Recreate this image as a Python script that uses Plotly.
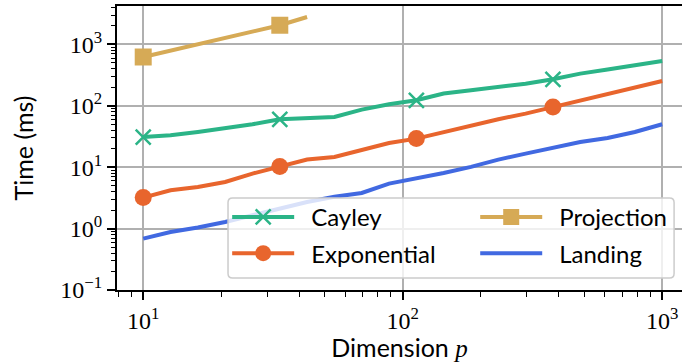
import plotly.graph_objects as go

# Problem sizes p (20 log-spaced dimensions from 10 to 1000)
dims = [10.0, 12.74, 16.24, 20.69, 26.37, 33.60, 42.81, 54.56, 69.52, 88.59,
        112.9, 143.8, 183.3, 233.6, 297.6, 379.3, 483.3, 615.8, 784.8, 1000.0]

# Timings in milliseconds
cayley = [31, 33, 37.4, 42.5, 50, 60.3, 64, 65.7, 86.7, 106,
          123, 158, 179, 200, 229, 270, 334, 389, 451, 537]
exponential = [3.2, 4.2, 4.76, 5.74, 7.87, 10.3, 13.3, 14.7, 18.8, 24.8,
               29.2, 37.4, 48, 60.5, 74.6, 95.5, 123, 158, 198, 253]
landing = [0.687, 0.88, 1.04, 1.28, 1.65, 2.12, 2.71, 3.3, 3.8, 5.4,
           6.5, 8.05, 10.1, 13.3, 16.6, 20.5, 25.7, 29.9, 37.4, 50]
projection = [623, 787, 995, 1260, 1600, 2050, 2790]

# Markers are drawn on every fifth sample
mark_idx = [0, 5, 10, 15]

x_tickvals = [10, 100, 1000]
x_ticktext = ["10<sup>1</sup>", "10<sup>2</sup>", "10<sup>3</sup>"]
y_tickvals = [0.1, 1, 10, 100, 1000]
y_ticktext = ["10<sup>\u22121</sup>", "10<sup>0</sup>", "10<sup>1</sup>",
              "10<sup>2</sup>", "10<sup>3</sup>"]

C_CAY = "#2bb487"
C_EXP = "#e8652d"
C_PROJ = "#d6aa56"
C_LAND = "#4169e1"

LW = 4
SERIF = "Liberation Serif"
SANS = "Lato"
FS = 24
PAD = "\u2002"  # small gap between legend handle and label


def add_series(fig, xs, ys, name, color, marker, legend_id, group):
    # continuous line
    fig.add_trace(go.Scatter(x=xs, y=ys, mode="lines", showlegend=False,
                             line=dict(color=color, width=LW), hoverinfo="skip"))
    # markers on every fifth sample
    if marker is not None:
        mx = [xs[i] for i in mark_idx if i < len(xs)]
        my = [ys[i] for i in mark_idx if i < len(ys)]
        fig.add_trace(go.Scatter(x=mx, y=my, mode="markers", showlegend=False,
                                 marker=marker))
    # legend entry
    fig.add_trace(go.Scatter(
        x=[None], y=[None], name=PAD + name, legend=legend_id, legendgroup=group,
        mode="lines+markers" if marker is not None else "lines",
        line=dict(color=color, width=LW),
        marker=marker if marker is not None else None,
    ))


fig = go.Figure()

add_series(fig, dims, cayley, "Cayley", C_CAY,
           dict(symbol="x-thin", size=15, color=C_CAY, line=dict(color=C_CAY, width=2.5)),
           "legend", "a")
add_series(fig, dims, exponential, "Exponential", C_EXP,
           dict(symbol="circle", size=17, color=C_EXP), "legend", "b")
add_series(fig, dims[:len(projection)], projection, "Projection", C_PROJ,
           dict(symbol="square", size=17, color=C_PROJ), "legend2", "c")
add_series(fig, dims, landing, "Landing", C_LAND, None, "legend2", "d")

x_minor = [8, 9] + [k * 10 for k in range(2, 10)] + [k * 100 for k in range(2, 10)]
y_minor = [m * d for d in (0.1, 1, 10, 100, 1000) for m in range(2, 10)]

# rounded legend frame (paper coordinates)
x0, x1, y0, y1 = 0.1965, 0.986, 0.0423, 0.324
rx, ry = 0.008, 0.016
frame = (f"M{x0+rx},{y0} L{x1-rx},{y0} Q{x1},{y0} {x1},{y0+ry} "
         f"L{x1},{y1-ry} Q{x1},{y1} {x1-rx},{y1} L{x0+rx},{y1} "
         f"Q{x0},{y1} {x0},{y1-ry} L{x0},{y0+ry} Q{x0},{y0} {x0+rx},{y0} Z")

legend_common = dict(
    orientation="v", xanchor="left", yanchor="top",
    itemwidth=62, tracegroupgap=2,
    bgcolor="rgba(0,0,0,0)", borderwidth=0,
    font=dict(family=SANS, size=FS, color="black"),
)

fig.update_layout(
    width=682, height=362,
    margin=dict(l=117, r=0, t=6, b=72),
    plot_bgcolor="white", paper_bgcolor="white",
    font=dict(family=SANS, size=FS, color="black"),
    showlegend=True,
    legend=dict(x=0.195, y=0.335, **legend_common),
    legend2=dict(x=0.634, y=0.335, **legend_common),
    shapes=[dict(type="path", path=frame, xref="paper", yref="paper",
                 fillcolor="rgba(255,255,255,0.8)",
                 line=dict(color="#cccccc", width=1.5), layer="above")],
    xaxis=dict(
        type="log", range=[0.899, 3.0763],
        showline=True, linecolor="black", linewidth=2, mirror=True,
        showgrid=True, gridcolor="#b0b0b0", gridwidth=1.5,
        tickmode="array", tickvals=x_tickvals, ticktext=x_ticktext,
        ticks="outside", ticklen=8, tickwidth=1.5, tickcolor="black",
        tickfont=dict(family=SERIF, size=24, color="black"),
        minor=dict(tickmode="array", tickvals=x_minor, ticks="outside",
                   ticklen=4.5, tickwidth=1.2, tickcolor="black", showgrid=False),
        title=dict(text="Dimension <span style='font-family:Liberation Serif'><i>p</i></span>",
                   standoff=2, font=dict(family=SANS, size=25)),
        zeroline=False,
    ),
    yaxis=dict(
        type="log", range=[-1, 3.625],
        showline=True, linecolor="black", linewidth=2, mirror=False,
        showgrid=True, gridcolor="#b0b0b0", gridwidth=1.5,
        tickmode="array", tickvals=y_tickvals, ticktext=y_ticktext,
        ticks="outside", ticklen=8, tickwidth=1.5, tickcolor="black",
        tickfont=dict(family=SERIF, size=24, color="black"),
        minor=dict(tickmode="array", tickvals=y_minor, ticks="outside",
                   ticklen=4.5, tickwidth=1.2, tickcolor="black", showgrid=False),
        title=dict(text="Time (ms)", standoff=20, font=dict(family=SANS, size=25)),
        zeroline=False,
    ),
)

fig.write_html("out.html")
